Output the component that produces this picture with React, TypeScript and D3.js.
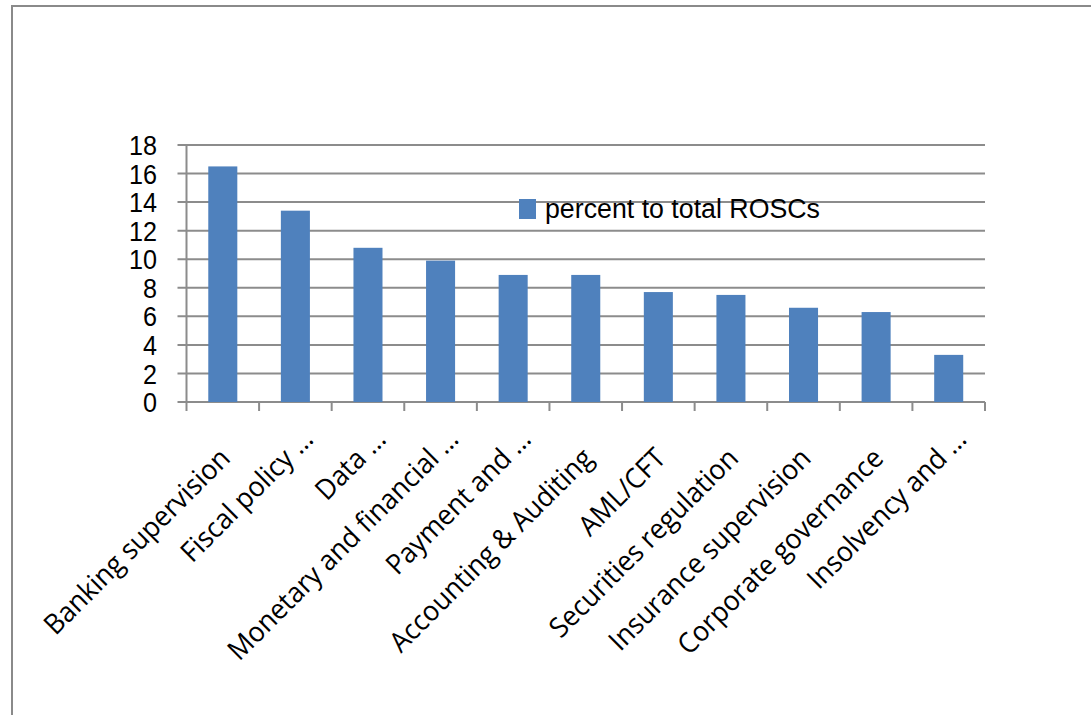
import React from "react";
import * as d3 from "d3";

const categories = [
  "Banking supervision",
  "Fiscal policy …",
  "Data …",
  "Monetary and financial …",
  "Payment and …",
  "Accounting & Auditing",
  "AML/CFT",
  "Securities regulation",
  "Insurance supervision",
  "Corporate governance",
  "Insolvency and …",
];
const values = [16.5, 13.4, 10.8, 9.9, 8.9, 8.9, 7.7, 7.5, 6.6, 6.3, 3.3];
const yTicks = [0, 2, 4, 6, 8, 10, 12, 14, 16, 18];
const seriesName = "percent to total ROSCs";

const W = 1091;
const H = 715;
const left = 186.5;
const right = 985;
const top = 145;
const bottom = 402;

const BAR = "#4F81BD";
const GRID = "#8c8c8c";
const SANS = "'Liberation Sans', Arial, sans-serif";
const LABEL = "'Open Sans', 'Noto Sans', sans-serif";

export default function App() {
  const x = d3.scaleBand<string>().domain(categories).range([left, right]).paddingInner(0.6).paddingOuter(0.3);
  const y = d3.scaleLinear().domain([0, 18]).range([bottom, top]);
  const step = x.step();
  const bounds = d3.range(categories.length + 1).map((i) => left + i * step);

  return (
    <svg width={W} height={H} style={{ position: "absolute", left: 0, top: 0, background: "#fff" }}>
      {/* outer frame (top and left edges) */}
      <path d={`M12,${H} V6 H${W}`} fill="none" stroke="#8a8a8a" strokeWidth={2} />

      {/* horizontal gridlines with left tick stubs */}
      {yTicks.map((t) => (
        <line key={t} x1={left - 9} x2={right} y1={y(t)} y2={y(t)} stroke={GRID} strokeWidth={2} />
      ))}
      {/* y axis */}
      <line x1={left} x2={left} y1={top} y2={bottom} stroke={GRID} strokeWidth={2} />
      {/* x axis ticks at category boundaries */}
      {bounds.map((bx, i) => (
        <line key={i} x1={bx} x2={bx} y1={bottom} y2={bottom + 9} stroke={GRID} strokeWidth={2} />
      ))}

      {/* bars */}
      {categories.map((c, i) => (
        <rect
          key={c}
          x={x(c)}
          y={y(values[i])}
          width={x.bandwidth()}
          height={y(0) - y(values[i])}
          fill={BAR}
        />
      ))}

      {/* y tick labels, slightly condensed */}
      {yTicks.map((t) => (
        <text
          key={t}
          transform={`translate(157,${y(t)}) scale(0.9,1)`}
          dy="0.36em"
          textAnchor="end"
          fontFamily={SANS}
          fontSize={28}
          fill="#000"
        >
          {t}
        </text>
      ))}

      {/* category labels rotated 45° */}
      {categories.map((c) => {
        const cx = (x(c) as number) + x.bandwidth() / 2 + 9;
        const cy = bottom + 58;
        const trunc = c.endsWith("…");
        return (
          <text
            key={c}
            transform={`translate(${cx},${cy}) rotate(-45) scale(0.95,1)`}
            textAnchor="end"
            dx={trunc ? 22 : 0}
            dy={trunc ? -6 : 0}
            fontFamily={LABEL}
            fontSize={28}
            fill="#000"
          >
            {c}
          </text>
        );
      })}

      {/* legend */}
      <rect x={519} y={199} width={17} height={20} fill={BAR} />
      <text
        x={545}
        y={218}
        fontFamily={SANS}
        fontSize={27}
        textLength={275}
        lengthAdjust="spacingAndGlyphs"
        fill="#000"
      >
        {seriesName}
      </text>
    </svg>
  );
}
